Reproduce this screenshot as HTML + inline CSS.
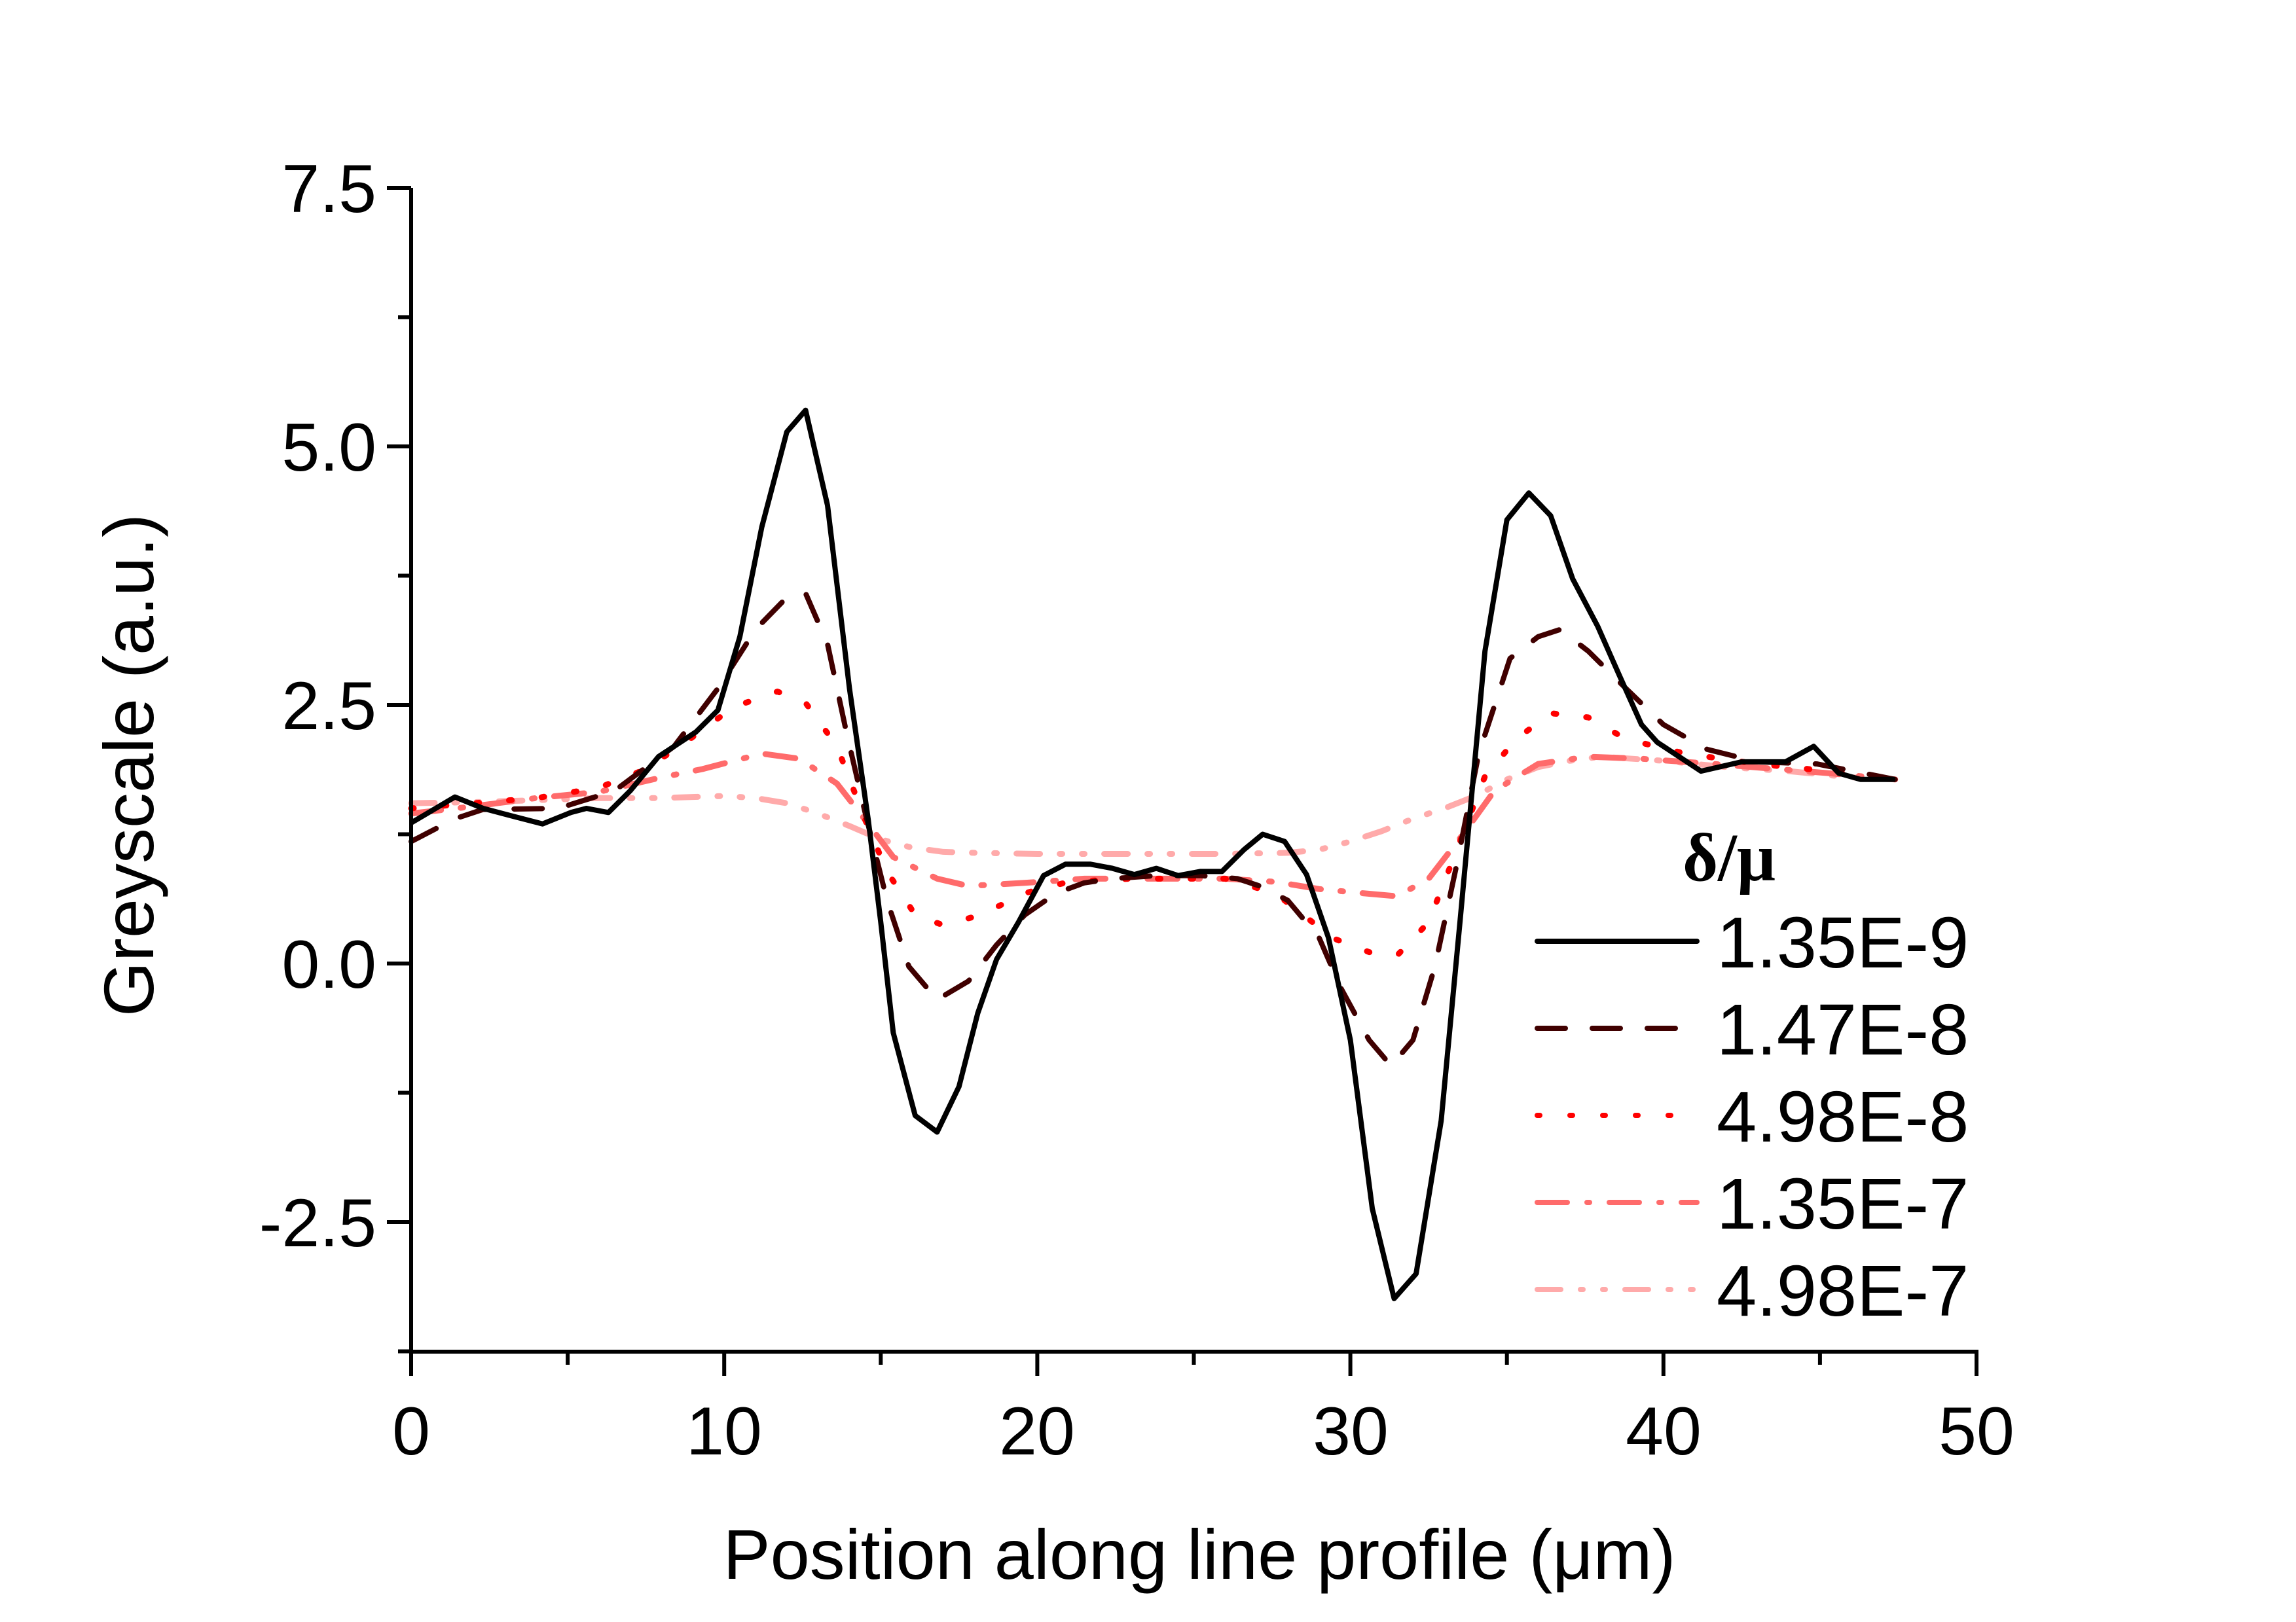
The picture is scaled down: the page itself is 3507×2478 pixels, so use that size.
<!DOCTYPE html>
<html><head><meta charset="utf-8"><style>
html,body{margin:0;padding:0;background:#fff}
svg{display:block}
text{font-family:"Liberation Sans",sans-serif;fill:#000}
</style></head><body>
<svg id="s" width="3507" height="2478" viewBox="0 0 3507 2478" xmlns="http://www.w3.org/2000/svg">
<rect width="3507" height="2478" fill="#fff"/>
<g id="plot" fill="none" stroke-linejoin="round"></g>
<g stroke="#000" stroke-width="6" fill="none">
<line x1="628" y1="287" x2="628" y2="2068"/>
<line x1="625" y1="2065" x2="3022" y2="2065"/>
<g id="ticks"></g>
</g>
<g font-size="104" text-anchor="end">
<text x="575" y="324">7.5</text>
<text x="575" y="719">5.0</text>
<text x="575" y="1509">0.0</text>
<text x="575" y="1114">2.5</text>
<text x="575" y="1904">-2.5</text>
</g>
<g font-size="104" text-anchor="middle">
<text x="628" y="2222">0</text>
<text x="1106" y="2222">10</text>
<text x="1584" y="2222">20</text>
<text x="2063" y="2222">30</text>
<text x="2541" y="2222">40</text>
<text x="3019" y="2222">50</text>
</g>
<text x="1832" y="2412" font-size="108" text-anchor="middle">Position along line profile (μm)</text>
<text transform="translate(234,1169) rotate(-90)" font-size="108" text-anchor="middle">Greyscale (a.u.)</text>
<text x="2641" y="1345" font-size="104" font-weight="bold" text-anchor="middle" style="font-family:'Liberation Serif',serif">δ/μ</text>
<g id="leg" stroke-linecap="round"></g>
<g font-size="110">
<text x="2622" y="1478">1.35E-9</text>
<text x="2622" y="1611">1.47E-8</text>
<text x="2622" y="1744">4.98E-8</text>
<text x="2622" y="1877">1.35E-7</text>
<text x="2622" y="2010">4.98E-7</text>
</g>
</svg>
<script>
var NS="http://www.w3.org/2000/svg";
function px(x){return 628+47.82*x}
function py(y){return 1472-158*y}
function el(t,a,p){var e=document.createElementNS(NS,t);for(var k in a)e.setAttribute(k,a[k]);p.appendChild(e);return e}
var ticks=document.getElementById('ticks');
for(var i=0;i<=10;i++){var x=px(i*5);el('line',{x1:x,y1:2065,x2:x,y2:i%2?2085:2102},ticks)}
for(var j=0;j<10;j++){var v=-3.75+j*1.25;var y=py(v);if(v>7.6)break;var maj=Math.abs((v/2.5)-Math.round(v/2.5))<1e-6;el('line',{x1:628,y1:y,x2:maj?591:608,y2:y},ticks)}
var S=[
{c:"#000",w:8,d:"",p:[[0,1.36],[1.4,1.61],[2.3,1.5],[3.3,1.42],[4.2,1.35],[5.1,1.46],[5.6,1.5],[6.3,1.46],[7,1.67],[7.9,2.0],[9.1,2.24],[9.8,2.45],[10.5,3.16],[11.2,4.22],[12,5.14],[12.6,5.35],[13.3,4.43],[14,2.66],[14.6,1.39],[15,0.4],[15.4,-0.67],[16.1,-1.47],[16.8,-1.63],[17.5,-1.19],[18.1,-0.48],[18.7,0.04],[19.4,0.4],[20.2,0.85],[20.9,0.96],[21.7,0.96],[22.4,0.92],[23.1,0.86],[23.8,0.92],[24.5,0.85],[25.2,0.89],[25.9,0.89],[26.6,1.1],[27.2,1.25],[27.9,1.18],[28.6,0.86],[29.3,0.25],[30,-0.74],[30.7,-2.37],[31.4,-3.24],[32.1,-3.0],[32.9,-1.52],[33.5,0.4],[34.3,3.02],[35,4.29],[35.7,4.55],[36.4,4.33],[37.1,3.72],[37.9,3.26],[38.6,2.78],[39.3,2.31],[39.8,2.14],[41.2,1.86],[42.5,1.95],[43.9,1.95],[44.8,2.1],[45.6,1.84],[46.3,1.78],[47.4,1.78]]},
{c:"#400000",w:8,d:"43 41",p:[[0,1.18],[1.4,1.4],[2.3,1.49],[4.7,1.5],[6.5,1.67],[8.4,2.1],[9.8,2.66],[11,3.23],[11.9,3.51],[12.6,3.58],[13.3,3.09],[13.9,2.24],[14.5,1.46],[15.2,0.61],[15.9,-0.03],[16.8,-0.35],[17.8,-0.17],[18.7,0.18],[19.6,0.47],[20.6,0.68],[21.5,0.78],[22.4,0.82],[23.8,0.85],[25.2,0.85],[26.4,0.82],[27.1,0.75],[28,0.61],[29,0.25],[29.7,-0.24],[30.6,-0.74],[31.3,-0.99],[32,-0.74],[32.7,-0.03],[33.4,0.96],[34.1,2.03],[35.1,2.95],[36,3.16],[36.7,3.23],[37.6,3.02],[38.8,2.66],[40,2.31],[41.4,2.07],[43,1.95],[44.9,1.93],[47.4,1.78]]},
{c:"#ff0000",w:9,d:"4 46",p:[[0,1.5],[2,1.55],[4,1.6],[6,1.7],[7.5,1.88],[8.9,2.17],[10.3,2.48],[11.7,2.63],[12.6,2.52],[13.6,2.1],[14.5,1.39],[15.2,0.89],[16.1,0.47],[17,0.37],[18.2,0.47],[19.6,0.68],[21,0.79],[23,0.82],[26,0.82],[27.6,0.68],[28.5,0.47],[29.4,0.25],[30.6,0.11],[31.5,0.08],[32.5,0.4],[33.4,1.1],[34.3,1.81],[35.3,2.17],[36.4,2.42],[37.6,2.38],[38.8,2.17],[40.7,2.03],[43,1.93],[45.3,1.86],[47.4,1.78]]},
{c:"#ff6b6b",w:9,d:"46 30 4 30",p:[[0,1.45],[2,1.52],[4,1.6],[6,1.66],[8,1.8],[9.3,1.88],[11.2,2.03],[12.4,1.98],[13.6,1.74],[14.5,1.39],[15.4,1.03],[16.8,0.82],[17.8,0.75],[19.6,0.78],[21.5,0.82],[26,0.82],[27.6,0.79],[29,0.72],[30.4,0.68],[31.5,0.65],[32.5,0.82],[33.6,1.25],[34.6,1.67],[36,1.93],[37.6,2.0],[39.3,1.98],[41.6,1.93],[45.3,1.84],[47.4,1.78]]},
{c:"#ffaaaa",w:9,d:"36 30 4 30 4 30",p:[[0,1.55],[2,1.56],[4,1.58],[6,1.6],[8,1.6],[10,1.62],[11,1.6],[12,1.55],[13,1.45],[14,1.33],[15,1.2],[16,1.12],[17,1.08],[18,1.07],[20,1.06],[26,1.06],[28,1.07],[29,1.1],[30,1.18],[31,1.28],[32,1.4],[33,1.5],[34,1.62],[35,1.78],[36,1.9],[37,1.96],[38,2.0],[40,1.96],[42,1.9],[44,1.86],[46,1.8],[47.4,1.78]]}
];
var plot=document.getElementById('plot'),leg=document.getElementById('leg');
for(var k=S.length-1;k>=0;k--){var s=S[k];
 var pts=s.p.map(function(q){return px(q[0]).toFixed(1)+","+py(q[1]).toFixed(1)}).join(" ");
 var a={points:pts,stroke:s.c,"stroke-width":s.w};if(s.d){a["stroke-dasharray"]=s.d;a["stroke-linecap"]="round"}
 el('polyline',a,plot);
 var ly=1438+133*k;var b={x1:2348,y1:ly,x2:2592,y2:ly,stroke:s.c,"stroke-width":8};if(s.d)b["stroke-dasharray"]=s.d;
 el('line',b,leg);
}
</script>
</body></html>
